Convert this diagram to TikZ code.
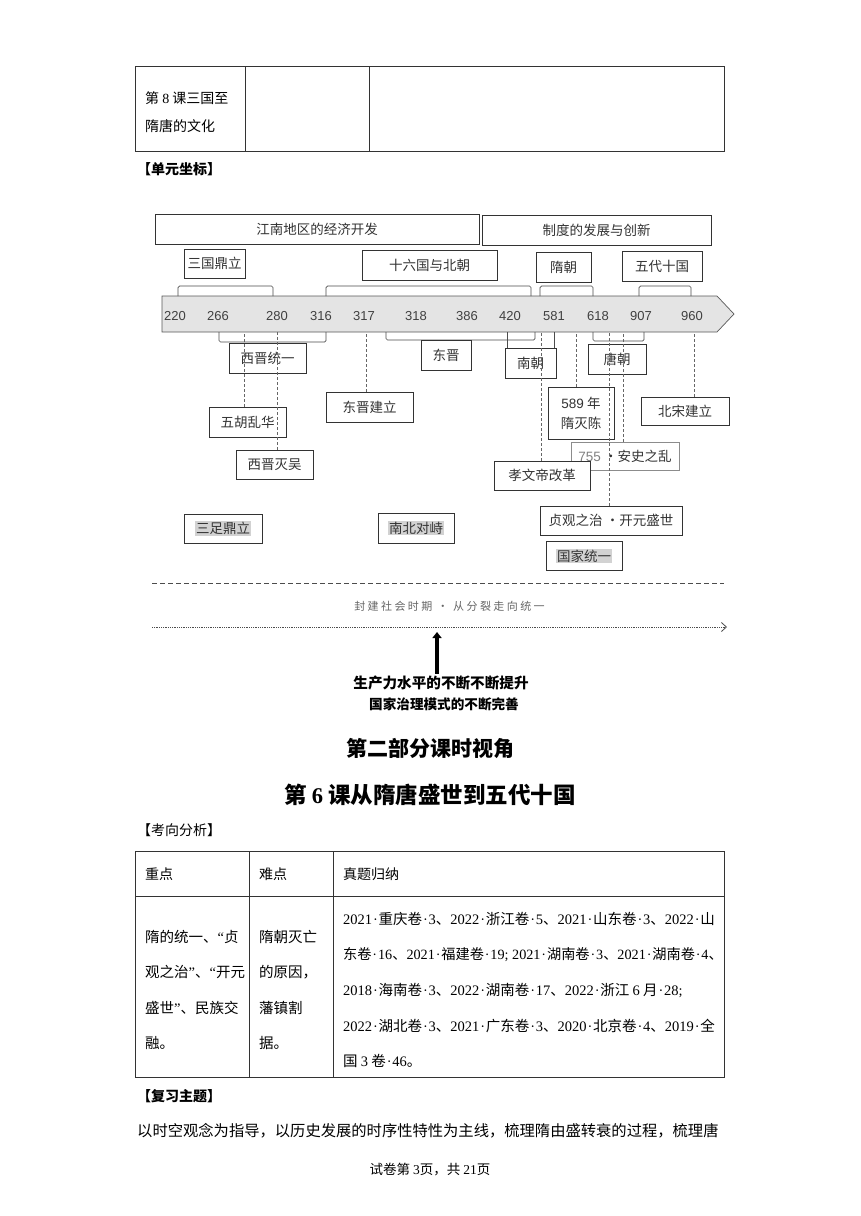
\documentclass[tikz,border=0pt]{standalone}
\usepackage{fontspec}
\setmainfont{Noto Sans CJK SC}
\newfontfamily\numfont{Liberation Sans}
\newfontfamily\lf{Liberation Serif}
\usepackage{xcolor}
\usetikzlibrary{positioning,arrows.meta}
\definecolor{axisfill}{HTML}{E4E4E4}
\definecolor{hlgray}{HTML}{D2D2D2}
\newcommand\hlt[1]{{\setlength{\fboxsep}{0.8pt}\colorbox{hlgray}{#1}}}
\newcommand\sn[1]{{\lf #1}}
\newcommand\dt{\makebox[6.5pt]{\lf ·}}

\begin{document}
\begin{tikzpicture}[x=1pt,y=-1pt,
	txt/.style={inner sep=0pt,anchor=west,font=\fontsize{14}{16}\selectfont},
	cell/.style={txt,font=\fontsize{14.5}{16}\selectfont},
	head/.style={inner sep=0pt,font=\fontsize{21}{24}\selectfont\bfseries},
	box/.style={draw=black!80,line width=0.7pt,inner sep=0pt,text=black!80,font=\fontsize{13.5}{16}\selectfont,minimum height=30pt},
	yr/.style={inner sep=0pt,text=black!75,font=\numfont\fontsize{13}{15}\selectfont},
	brk/.style={draw=black!70,line width=0.7pt,rounded corners=1.5pt},
	dl/.style={draw=black!60,densely dashed,line width=0.6pt},
	tbl/.style={draw=black!80,line width=0.8pt}]
	\fill[white] (0,0) rectangle (860,1216);
	\useasboundingbox (0,0) rectangle (860,1216);

	% top table
	\draw[tbl] (135,66) rectangle (724,151) (245,66) -- (245,151) (369,66) -- (369,151);
	\node[txt] (k8a) at (145,98) {第 \sn{8} 课三国至};
	\node[txt] (k8b) at (145,126) {隋唐的文化};
	\node[txt,font=\fontsize{14}{16}\selectfont\bfseries] (dyzb) at (137,169) {【单元坐标】};

	% upper boxes
	\node[box,minimum width=324pt] (jn) at (317,229) {江南地区的经济开发};
	\node[box,minimum width=229pt] (zd) at (596.5,230) {制度的发展与创新};
	\node[box,minimum width=61pt,minimum height=29pt] (sg) at (214.5,263.5) {三国鼎立};
	\node[box,minimum width=135pt] (sl) at (429.5,265) {十六国与北朝};
	\node[box,minimum width=55pt] (sui) at (563.5,267) {隋朝};
	\node[box,minimum width=80pt] (wd) at (662,266) {五代十国};

	% time axis
	\draw[draw=black!65,fill=axisfill,line width=0.7pt] (162,296) -- (717,296) -- (734,314) -- (717,332) -- (162,332) -- cycle;
	\coordinate (ab) at (0,332);
	\foreach \y/\x in {220/175,266/218,280/277,316/321,317/364,318/416,386/467,420/510,581/554,618/598,907/641,960/692}
		\node[yr] (y\y) at (\x,316) {\y};

	\foreach \a/\b in {178/273,326/531,540/593,639/691}
		\draw[brk] (\a,296) -- (\a,286) -- (\b,286) -- (\b,296);
	\foreach \a/\b/\c in {219/326/342,386/535/340,593/644/341}
		\draw[brk] (\a,332) -- (\a,\c) -- (\b,\c) -- (\b,332);

	% lower boxes
	\node[box,minimum width=77pt] (xj) at (267.5,358) {西晋统一};
	\node[box,minimum width=50pt] (dj) at (446,355) {东晋};
	\node[box,minimum width=51pt] (nc) at (530.5,363) {南朝};
	\node[box,minimum width=58pt] (tc) at (617,359) {唐朝};
	\draw[brk] (nc.north -| 507,0) -- (507,332) (nc.north -| 554,0) -- (554,332);
	\node[box,minimum width=77pt] (wh) at (247.5,422) {五胡乱华};
	\node[box,minimum width=77pt,minimum height=29pt] (xm) at (274.5,464.5) {西晋灭吴};
	\node[box,minimum width=87pt] (djl) at (369.5,407) {东晋建立};
	\node[box,minimum width=66pt,minimum height=52pt,align=center,font=\fontsize{13.5}{20}\selectfont] (sm) at (581,413) {{\numfont 589} 年\\隋灭陈};
	\node[box,minimum width=88pt,minimum height=28pt] (bs) at (685,411) {北宋建立};
	\node[box,draw=black!45,minimum width=108pt,minimum height=28pt] (as) at (625,456) {{\numfont\color{black!50}755}~·安史之乱};
	\node[box,fill=white,minimum width=96pt,minimum height=29pt] (xw) at (542,475.5) {孝文帝改革};
	\node[box,minimum width=142pt,minimum height=29pt] (zg) at (611,520.5) {贞观之治 ·开元盛世};
	\node[box,minimum width=76pt,minimum height=29pt] (gj) [below=6pt of zg,xshift=-27pt] {\hlt{国家统一}};
	\node[box,minimum width=78pt,minimum height=29pt] (szd) at (223,528.5) {\hlt{三足鼎立}};
	\node[box,minimum width=76pt] (nb) at (416,528) {\hlt{南北对峙}};

	\foreach \n/\s in {wh/-3.5,xm/2.5,djl/-3.5,xw/-1,sm/-5,as/-2,bs/9,zg/-2}
		\draw[dl] ([xshift=\s]\n.north) -- ([xshift=\s]\n.north |- ab);

	% trend
	\coordinate (r1) at (152,583);
	\coordinate (r2) at (724,583);
	\draw[draw=black!70,dash pattern=on 5pt off 3pt,line width=0.7pt] (r1) -- (r2);
	\node[inner sep=0pt,text=black!60,font=\fontsize{11}{13}\selectfont\addfontfeature{LetterSpace=22}] (fj) at (449.5,606) {封建社会时期 · 从分裂走向统一};
	\coordinate (d1) at (152,627);
	\coordinate (d2) at (727,627);
	\draw[draw=black!70,densely dotted,line width=0.8pt,-{Straight Barb[length=5pt,width=9pt,line width=0.8pt]}] (d1) -- (d2);
	\node[inner sep=0pt,font=\fontsize{14.6}{16}\selectfont\bfseries] (scl) at (441,683) {生产力水平的不断不断提升};
	\node[inner sep=0pt,font=\fontsize{13.6}{15}\selectfont\bfseries] (gjzl) at (444,704) {国家治理模式的不断完善};
	\coordinate (up) at (437,632);
	\draw[line width=4pt,-{Triangle[length=6pt,width=9pt]}] (scl.north -| up) ++(0,-2) -- (up);

	% part two
	\node[head] (bt1) at (430,748) {第二部分课时视角};
	\node[head,font=\fontsize{22.5}{26}\selectfont\bfseries] (bt2) at (430,795) {第 \sn{6} 课从隋唐盛世到五代十国};
	\node[txt] (kx) at (137,830) {【考向分析】};

	\draw[tbl] (135,851) rectangle (724,1077) (135,896) -- (724,896) (249,851) -- (249,1077) (333,851) -- (333,1077);
	\node[txt] (h1) at (145,874) {重点};
	\node[txt] (h2) at (259,874) {难点};
	\node[txt] (h3) at (343,874) {真题归纳};
	\foreach \t [count=\i] in {隋的统一、\sn{“}贞,观之治\sn{”}、\sn{“}开元,盛世\sn{”}、民族交,融。}
		\node[cell] (c1\i) at (145,937+35.3*\i-35.3) {\t};
	\foreach \t [count=\i] in {隋朝灭亡,的原因，,藩镇割,据。}
		\node[cell] (c2\i) at (259,937+35.3*\i-35.3) {\t};
	\node[cell] (c31) at (343,919) {\sn{2021}\dt 重庆卷\dt\sn{3}、\sn{2022}\dt 浙江卷\dt\sn{5}、\sn{2021}\dt 山东卷\dt\sn{3}、\sn{2022}\dt 山};
	\node[cell,font=\fontsize{14.2}{16}\selectfont] (c32) at (343,955) {东卷\dt\sn{16}、\sn{2021}\dt 福建卷\dt\sn{19; 2021}\dt 湖南卷\dt\sn{3}、\sn{2021}\dt 湖南卷\dt\sn{4}、};
	\node[cell] (c33) at (343,990) {\sn{2018}\dt 海南卷\dt\sn{3}、\sn{2022}\dt 湖南卷\dt\sn{17}、\sn{2022}\dt 浙江 \sn{6} 月\dt\sn{28;}};
	\node[cell] (c34) at (343,1026) {\sn{2022}\dt 湖北卷\dt\sn{3}、\sn{2021}\dt 广东卷\dt\sn{3}、\sn{2020}\dt 北京卷\dt\sn{4}、\sn{2019}\dt 全};
	\node[cell] (c35) at (343,1061) {国 \sn{3} 卷\dt\sn{46}。};

	\node[txt,font=\fontsize{14}{16}\selectfont\bfseries] (fxzt) at (137,1096) {【复习主题】};
	\node[txt,font=\fontsize{15.3}{17}\selectfont] (zt) at (137,1131) {以时空观念为指导，以历史发展的时序性特性为主线，梳理隋由盛转衰的过程，梳理唐};
	\node[inner sep=0pt,font=\fontsize{13.5}{15}\selectfont] (ym) at (430,1170) {试卷第 \sn{3}页，共 \sn{21}页};
\end{tikzpicture}
\end{document}
